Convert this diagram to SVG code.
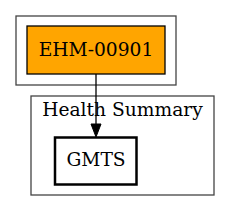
<svg xmlns="http://www.w3.org/2000/svg" width="231" height="212" viewBox="0 0 231 212">
<style>
.cl{fill:none;stroke:#444;stroke-width:1.3}
.t{font-family:"DejaVu Serif",serif;font-size:18.67px;text-anchor:middle;fill:#000}
</style>
<rect width="231" height="212" fill="#fff"/>
<g id="cluster1"><rect class="cl" x="16" y="16" width="160" height="69"/></g>
<g id="cluster2"><rect class="cl" x="31" y="96" width="183" height="99"/><text class="t" x="122.5" y="116">Health Summary</text></g>
<g id="connectors"><path d="M96,74 V124" stroke="#000" stroke-width="1.3" fill="none"/><polygon points="91,124 101,124 96,137" fill="#000" stroke="#000" stroke-width="1"/></g>
<g id="EHM-00901"><rect x="27" y="26" width="138" height="48" fill="#ffa500" stroke="#000" stroke-width="1.3"/><text class="t" x="96" y="56">EHM-00901</text></g>
<g id="GMTS"><rect x="55" y="137.5" width="81.5" height="47" fill="#fff" stroke="#000" stroke-width="2.5"/><text class="t" x="96" y="166">GMTS</text></g>
</svg>
